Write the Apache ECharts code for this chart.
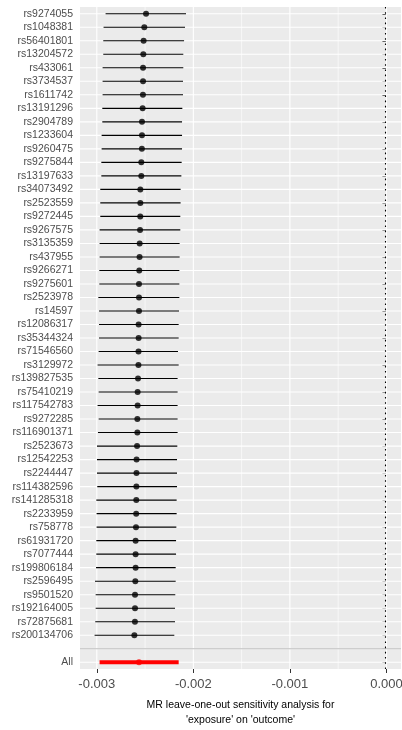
<!DOCTYPE html>
<html><head><meta charset="utf-8">
<script src="https://cdn.jsdelivr.net/npm/echarts@6/dist/echarts.min.js"></script>
<style>html,body{margin:0;padding:0;background:#fff}#c{width:402px;height:730px}</style>
</head><body><div id="c"></div>
<script>
// SNPs, listed top to bottom as in the picture
const snps = ['rs9274055','rs1048381','rs56401801','rs13204572','rs433061','rs3734537','rs1611742','rs13191296','rs2904789','rs1233604','rs9260475','rs9275844','rs13197633','rs34073492','rs2523559','rs9272445','rs9267575','rs3135359','rs437955','rs9266271','rs9275601','rs2523978','rs14597','rs12086317','rs35344324','rs71546560','rs3129972','rs139827535','rs75410219','rs117542783','rs9272285','rs116901371','rs2523673','rs12542253','rs2244447','rs114382596','rs141285318','rs2233959','rs758778','rs61931720','rs7077444','rs199806184','rs2596495','rs9501520','rs192164005','rs72875681','rs200134706'];
const estimate = [-0.002490,-0.002508,-0.002515,-0.002518,-0.002521,-0.002521,-0.002522,-0.002525,-0.002532,-0.002532,-0.002533,-0.002539,-0.002539,-0.002549,-0.002549,-0.002550,-0.002552,-0.002556,-0.002557,-0.002560,-0.002563,-0.002563,-0.002563,-0.002567,-0.002567,-0.002568,-0.002569,-0.002573,-0.002577,-0.002577,-0.002580,-0.002580,-0.002583,-0.002588,-0.002589,-0.002590,-0.002591,-0.002592,-0.002594,-0.002598,-0.002598,-0.002598,-0.002601,-0.002604,-0.002604,-0.002605,-0.002611];
const lower = [-0.002909,-0.002930,-0.002933,-0.002933,-0.002940,-0.002940,-0.002940,-0.002943,-0.002943,-0.002950,-0.002950,-0.002953,-0.002953,-0.002964,-0.002964,-0.002964,-0.002971,-0.002971,-0.002971,-0.002974,-0.002974,-0.002984,-0.002977,-0.002977,-0.002977,-0.002981,-0.002992,-0.002984,-0.002981,-0.002992,-0.002981,-0.002988,-0.002998,-0.002998,-0.002998,-0.002995,-0.003005,-0.003002,-0.003002,-0.003005,-0.003005,-0.003008,-0.003019,-0.003012,-0.003012,-0.003016,-0.003023];
const upper = [-0.002076,-0.002086,-0.002096,-0.002104,-0.002104,-0.002107,-0.002107,-0.002114,-0.002117,-0.002117,-0.002117,-0.002121,-0.002124,-0.002132,-0.002132,-0.002135,-0.002135,-0.002142,-0.002142,-0.002145,-0.002145,-0.002145,-0.002148,-0.002152,-0.002152,-0.002159,-0.002152,-0.002163,-0.002163,-0.002163,-0.002163,-0.002163,-0.002166,-0.002169,-0.002169,-0.002169,-0.002173,-0.002173,-0.002176,-0.002179,-0.002179,-0.002183,-0.002183,-0.002187,-0.002190,-0.002190,-0.002197];
const overallLabel = 'All';
const overallEstimate = -0.002563;
const overallLower = -0.002971;
const overallUpper = -0.002152;
const xMin = -0.003174;
const xMax = 0.000151;
const xTicks = [-0.003, -0.002, -0.001, 0];
const xMinorTicks = [-0.0025, -0.0015, -0.0005];
const xTitle = "MR leave-one-out sensitivity analysis for\n'exposure' on 'outcome'";

// category order bottom -> top
const cats = [overallLabel, ''].concat(snps.slice().reverse());
const idxOf = i => cats.length - 1 - i;
const barData = snps.map((s, i) => [lower[i], upper[i], idxOf(i)]);
barData.push([overallLower, overallUpper, 0]);
const pointData = snps.map((s, i) => [estimate[i], idxOf(i)]);

const chart = echarts.init(document.getElementById('c'), null, {renderer: 'canvas'});
chart.setOption({
  animation: false,
  textStyle: {fontFamily: 'Liberation Sans, Arial, sans-serif'},
  grid: {left: 80, right: 1, top: 7, bottom: 61, show: true, backgroundColor: '#EBEBEB', borderWidth: 0,
    containLabel: false, outerBoundsMode: 'none'},
  xAxis: {
    type: 'value', min: xMin, max: xMax,
    splitLine: {show: false},
    axisLine: {show: false},
    axisTick: {show: true, customValues: xTicks, length: 4, lineStyle: {color: '#333333', width: 1}},
    axisLabel: {customValues: xTicks, formatter: v => (Math.abs(v) < 1e-12 ? 0 : v).toFixed(3), color: '#4D4D4D', fontSize: 13, margin: 9},
    name: xTitle, nameLocation: 'middle', nameGap: 29,
    nameTextStyle: {color: '#000', fontSize: 10.5, lineHeight: 14.5}
  },
  yAxis: {
    type: 'category', data: cats,
    axisLine: {show: false},
    splitLine: {show: false},
    axisTick: {show: true, alignWithLabel: true, interval: 0, length: 4, lineStyle: {color: '#333333', width: 1}},
    axisLabel: {interval: 0, color: '#4D4D4D', fontSize: 10.5, margin: 7}
  },
  series: [
    {
      type: 'custom', name: 'hgrid', z: 1, silent: true,
      data: cats.map((c, i) => [0, i]),
      encode: {x: 0, y: 1},
      renderItem: function (params, api) {
        const cs = params.coordSys;
        const y = api.coord([0, api.value(1)])[1];
        return {type: 'line', shape: {x1: cs.x, y1: y, x2: cs.x + cs.width, y2: y},
          style: {stroke: '#FFFFFF', lineWidth: 1.1}};
      }
    },
    {
      type: 'custom', name: 'vgrid', z: 1, silent: true,
      data: xTicks.map(v => [v, 0, 1.1]).concat(xMinorTicks.map(v => [v, 0, 0.6])),
      encode: {x: 0, y: 1},
      renderItem: function (params, api) {
        const cs = params.coordSys;
        const x = api.coord([api.value(0), 0])[0];
        return {type: 'line', shape: {x1: x, y1: cs.y, x2: x, y2: cs.y + cs.height},
          style: {stroke: '#FFFFFF', lineWidth: api.value(2)}};
      }
    },
    {
      type: 'custom', name: 'sep', z: 3, silent: true,
      data: [[0, 1]],
      encode: {x: 0, y: 1},
      renderItem: function (params, api) {
        const cs = params.coordSys;
        const y = api.coord([0, api.value(1)])[1];
        return {type: 'line', shape: {x1: cs.x, y1: y, x2: cs.x + cs.width, y2: y},
          style: {stroke: '#BEBEBE', lineWidth: 1.2}};
      }
    },
    {
      type: 'custom', name: 'zero', z: 3, silent: true,
      data: [[0, 0]],
      encode: {x: 0, y: 1},
      renderItem: function (params, api) {
        const cs = params.coordSys;
        const x = Math.round(api.coord([api.value(0), 0])[0]) - 0.5;
        return {type: 'line', shape: {x1: x, y1: cs.y, x2: x, y2: cs.y + cs.height},
          style: {stroke: '#000000', lineWidth: 1.1, lineDash: [1.6, 3.6]}};
      }
    },
    {
      type: 'custom', name: 'ci', z: 4, silent: true,
      data: barData,
      encode: {x: [0, 1], y: 2},
      renderItem: function (params, api) {
        const p1 = api.coord([api.value(0), api.value(2)]);
        const p2 = api.coord([api.value(1), api.value(2)]);
        const isAll = api.value(2) === 0;
        return {type: 'line', shape: {x1: p1[0], y1: p1[1], x2: p2[0], y2: p2[1]},
          style: {stroke: isAll ? '#FF0000' : '#000000', lineWidth: isAll ? 4 : 1.1}};
      }
    },
    {
      type: 'scatter', name: 'est', z: 5, silent: true,
      symbol: 'circle', symbolSize: 6,
      itemStyle: {color: '#000000'},
      data: pointData
    },
    {
      type: 'scatter', name: 'all', z: 5, silent: true,
      symbol: 'circle', symbolSize: 6,
      itemStyle: {color: '#FF0000'},
      data: [[overallEstimate, 0]]
    }
  ]
});
</script>
</body></html>
